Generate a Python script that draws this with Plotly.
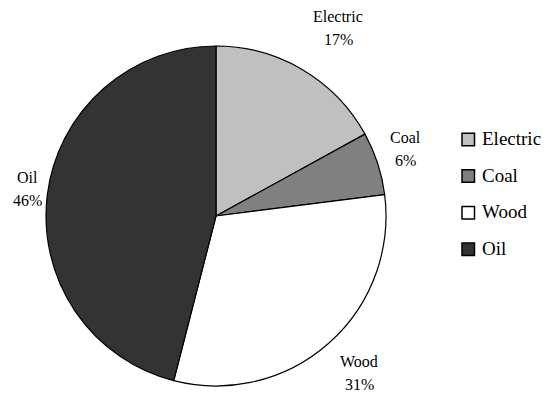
import plotly.graph_objects as go

# Share of homes by heating fuel
fuels = ["Electric", "Coal", "Wood", "Oil"]
shares = [17, 6, 31, 46]
fill_colors = ["#c0c0c0", "#808080", "#ffffff", "#333333"]

W, H = 554, 394

# Where each slice's label sits (pixel centres of the two-line block)
label_xy = [(338, 28), (405, 149), (359, 373), (27, 189)]
line_gap = 23

# Pie placement in pixels: centre and radius
cx, cy, r = 216, 216, 170

fig = go.Figure(
    go.Pie(
        labels=fuels,
        values=shares,
        sort=False,
        direction="clockwise",
        rotation=0,
        textinfo="none",
        hoverinfo="label+percent",
        marker=dict(colors=fill_colors, line=dict(color="#000000", width=1.2)),
        domain=dict(
            x=[(cx - r) / W, (cx + r) / W],
            y=[1 - (cy + r) / H, 1 - (cy - r) / H],
        ),
        showlegend=False,
    )
)

font = dict(family="Liberation Serif, Times New Roman, serif", color="#000000")

annotations = []
for name, val, (px, py) in zip(fuels, shares, label_xy):
    for txt, dy in ((name, -line_gap / 2), (f"{val}%", line_gap / 2)):
        annotations.append(
            dict(
                x=px / W, y=1 - (py + dy) / H, xref="paper", yref="paper",
                text=txt, showarrow=False,
                xanchor="center", yanchor="middle",
                font=dict(size=16, **font),
            )
        )

# Key on the right: swatch + name per fuel
shapes = []
key_x0, key_y0, key_step, sw = 462, 139.5, 36.6, 12.5
for i, (name, col) in enumerate(zip(fuels, fill_colors)):
    yc = key_y0 + i * key_step
    shapes.append(
        dict(
            type="rect", xref="paper", yref="paper",
            x0=key_x0 / W, x1=(key_x0 + sw) / W,
            y0=1 - (yc + sw / 2) / H, y1=1 - (yc - sw / 2) / H,
            fillcolor=col, line=dict(color="#000000", width=1.5),
        )
    )
    annotations.append(
        dict(
            x=(key_x0 + sw + 5) / W, y=1 - (yc - 1) / H, xref="paper", yref="paper",
            text=name, showarrow=False, xanchor="left", yanchor="middle",
            font=dict(size=19, **font),
        )
    )

fig.update_layout(
    width=W, height=H,
    margin=dict(l=0, r=0, t=0, b=0),
    paper_bgcolor="#ffffff", plot_bgcolor="#ffffff",
    annotations=annotations, shapes=shapes,
)

fig.write_html("out.html")
